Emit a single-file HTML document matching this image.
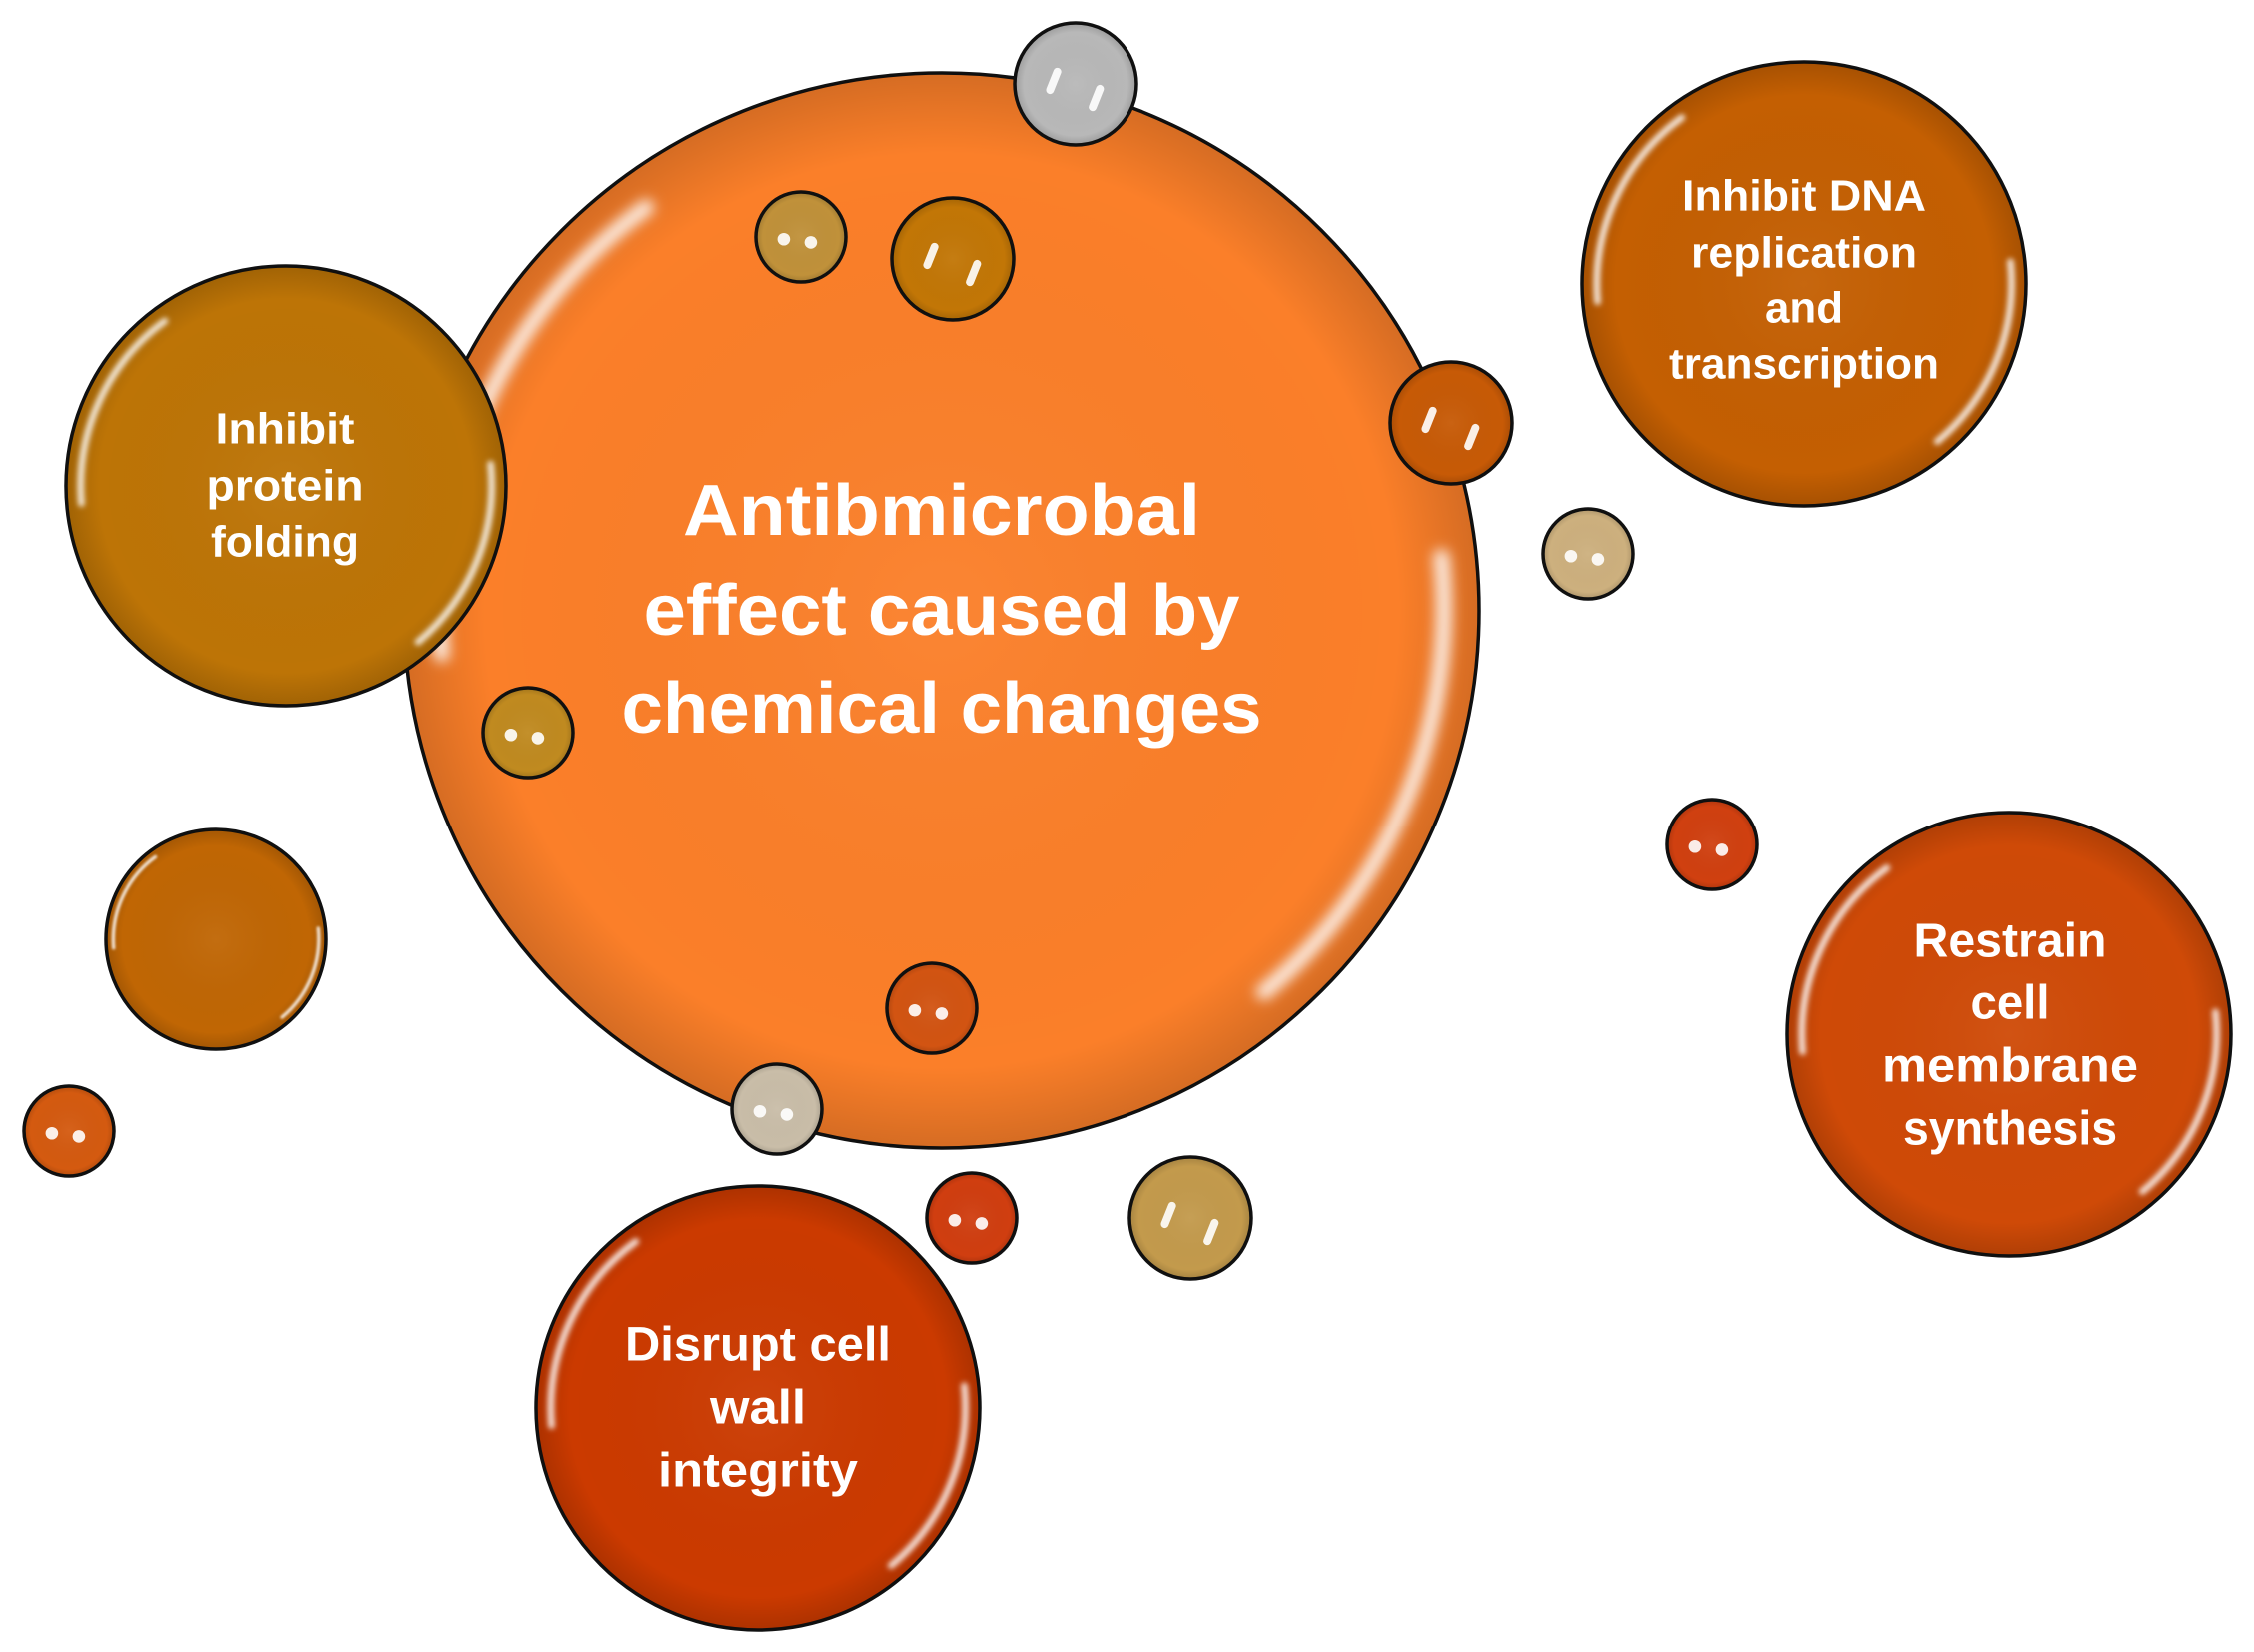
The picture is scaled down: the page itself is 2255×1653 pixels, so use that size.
<!DOCTYPE html>
<html><head><meta charset="utf-8"><style>
html,body{margin:0;padding:0;background:#fff;}
svg{display:block;}
text{font-family:"Liberation Sans",sans-serif;font-weight:bold;fill:#fff;text-anchor:middle;dominant-baseline:central;}
</style></head><body>
<svg width="2255" height="1653" viewBox="0 0 2255 1653" xmlns="http://www.w3.org/2000/svg">
<defs>
<radialGradient id="ov" cx="0.5" cy="0.5" r="0.5">
<stop offset="0" stop-color="#fff" stop-opacity="0.05"/>
<stop offset="0.85" stop-color="#000" stop-opacity="0"/>
<stop offset="1" stop-color="#000" stop-opacity="0.15"/>
</radialGradient>
<filter id="bl" x="-20%" y="-20%" width="140%" height="140%"><feGaussianBlur stdDeviation="1.2"/></filter>
<g id="hl" fill="none" stroke="#fff" stroke-linecap="round" filter="url(#bl)">
<path d="M -93 8 A 93 93 0 0 1 -55 -75" stroke-width="3" opacity="0.85"/>
<path d="M 93 -10 A 93 93 0 0 1 60 71" stroke-width="3" opacity="0.85"/>
</g>
<g id="dots" fill="#fff">
<circle cx="-38" cy="5" r="14" opacity="0.9"/>
<circle cx="22" cy="12" r="14" opacity="0.9"/>
</g>
<g id="sh" fill="none" stroke="#fff" stroke-linecap="round" stroke-width="13">
<path d="M -42 10 L -30 -20" opacity="0.9"/>
<path d="M 40 8 L 28 38" opacity="0.9"/>
</g>
</defs>

<circle cx="942" cy="611" r="538" fill="#FB7F29" stroke="#111" stroke-width="3.5"/>
<circle cx="942" cy="611" r="538" fill="url(#ov)"/>
<use href="#hl" transform="translate(942,611) scale(5.38)"/>

<circle cx="286" cy="486" r="220" fill="#BD7406" stroke="#111" stroke-width="3.5"/>
<circle cx="286" cy="486" r="220" fill="url(#ov)"/>
<use href="#hl" transform="translate(286,486) scale(2.2)"/>

<circle cx="1805" cy="284" r="222" fill="#C45F02" stroke="#111" stroke-width="3.5"/>
<circle cx="1805" cy="284" r="222" fill="url(#ov)"/>
<use href="#hl" transform="translate(1805,284) scale(2.22)"/>

<circle cx="2010" cy="1035" r="222" fill="#CF4A07" stroke="#111" stroke-width="3.5"/>
<circle cx="2010" cy="1035" r="222" fill="url(#ov)"/>
<use href="#hl" transform="translate(2010,1035) scale(2.22)"/>

<circle cx="758" cy="1409" r="222" fill="#CB3A00" stroke="#111" stroke-width="3.5"/>
<circle cx="758" cy="1409" r="222" fill="url(#ov)"/>
<use href="#hl" transform="translate(758,1409) scale(2.22)"/>

<circle cx="216" cy="940" r="110" fill="#C06604" stroke="#111" stroke-width="3.5"/>
<circle cx="216" cy="940" r="110" fill="url(#ov)"/>
<use href="#hl" transform="translate(216,940) scale(1.1)"/>

<g stroke="#111" stroke-width="3.5">
<circle cx="1076" cy="84" r="61" fill="#B8B8B8"/>
<circle cx="801" cy="237" r="45" fill="#C0913A"/>
<circle cx="953" cy="259" r="61" fill="#C27606"/>
<circle cx="1452" cy="423" r="61" fill="#C75A06"/>
<circle cx="1589" cy="554" r="45" fill="#CDB07E"/>
<circle cx="528" cy="733" r="45" fill="#C08A20"/>
<circle cx="932" cy="1009" r="45" fill="#D25412"/>
<circle cx="777" cy="1110" r="45" fill="#C9BDA8"/>
<circle cx="972" cy="1219" r="45" fill="#D03E10"/>
<circle cx="1191" cy="1219" r="61" fill="#C39A4C"/>
<circle cx="1713" cy="845" r="45" fill="#D04010"/>
<circle cx="69" cy="1132" r="45" fill="#D45A10"/>
</g>
<g>
<circle cx="1076" cy="84" r="61" fill="url(#ov)"/>
<circle cx="801" cy="237" r="45" fill="url(#ov)"/>
<circle cx="953" cy="259" r="61" fill="url(#ov)"/>
<circle cx="1452" cy="423" r="61" fill="url(#ov)"/>
<circle cx="1589" cy="554" r="45" fill="url(#ov)"/>
<circle cx="528" cy="733" r="45" fill="url(#ov)"/>
<circle cx="932" cy="1009" r="45" fill="url(#ov)"/>
<circle cx="777" cy="1110" r="45" fill="url(#ov)"/>
<circle cx="972" cy="1219" r="45" fill="url(#ov)"/>
<circle cx="1191" cy="1219" r="61" fill="url(#ov)"/>
<circle cx="1713" cy="845" r="45" fill="url(#ov)"/>
<circle cx="69" cy="1132" r="45" fill="url(#ov)"/>
</g>
<use href="#sh" transform="translate(1076,84) scale(0.61)"/>
<use href="#dots" transform="translate(801,237) scale(0.45)"/>
<use href="#sh" transform="translate(953,259) scale(0.61)"/>
<use href="#sh" transform="translate(1452,423) scale(0.61)"/>
<use href="#dots" transform="translate(1589,554) scale(0.45)"/>
<use href="#dots" transform="translate(528,733) scale(0.45)"/>
<use href="#dots" transform="translate(932,1009) scale(0.45)"/>
<use href="#dots" transform="translate(777,1110) scale(0.45)"/>
<use href="#dots" transform="translate(972,1219) scale(0.45)"/>
<use href="#sh" transform="translate(1191,1219) scale(0.61)"/>
<use href="#dots" transform="translate(1713,845) scale(0.45)"/>
<use href="#dots" transform="translate(69,1132) scale(0.45)"/>

<g style="font-size:72px">
<text x="942" y="511" textLength="518" lengthAdjust="spacingAndGlyphs">Antibmicrobal</text>
<text x="942" y="611" textLength="597" lengthAdjust="spacingAndGlyphs">effect caused by</text>
<text x="942" y="709" textLength="641" lengthAdjust="spacingAndGlyphs">chemical changes</text>
</g>
<g style="font-size:44px">
<text x="285" y="429" textLength="139" lengthAdjust="spacingAndGlyphs">Inhibit</text>
<text x="285" y="486" textLength="157" lengthAdjust="spacingAndGlyphs">protein</text>
<text x="285" y="542" textLength="148" lengthAdjust="spacingAndGlyphs">folding</text>
<text x="1805" y="196" textLength="244" lengthAdjust="spacingAndGlyphs">Inhibit DNA</text>
<text x="1805" y="253" textLength="226" lengthAdjust="spacingAndGlyphs">replication</text>
<text x="1805" y="308" textLength="78" lengthAdjust="spacingAndGlyphs">and</text>
<text x="1805" y="364" textLength="270" lengthAdjust="spacingAndGlyphs">transcription</text>
</g>
<g style="font-size:48px">
<text x="2011" y="942" textLength="193" lengthAdjust="spacingAndGlyphs">Restrain</text>
<text x="2011" y="1004" textLength="79" lengthAdjust="spacingAndGlyphs">cell</text>
<text x="2011" y="1067" textLength="256" lengthAdjust="spacingAndGlyphs">membrane</text>
<text x="2011" y="1130" textLength="214" lengthAdjust="spacingAndGlyphs">synthesis</text>
<text x="758" y="1346" textLength="266" lengthAdjust="spacingAndGlyphs">Disrupt cell</text>
<text x="758" y="1409" textLength="96" lengthAdjust="spacingAndGlyphs">wall</text>
<text x="758" y="1472" textLength="200" lengthAdjust="spacingAndGlyphs">integrity</text>
</g>
</svg>
</body></html>
